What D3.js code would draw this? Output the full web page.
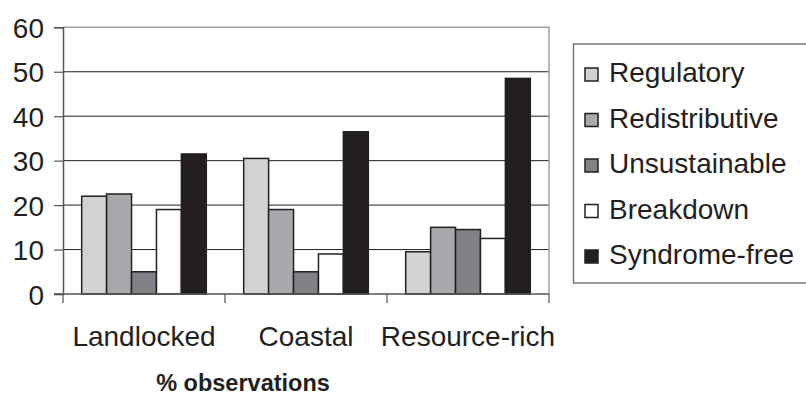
<!DOCTYPE html>
<html>
<head>
<meta charset="utf-8">
<script src="https://cdn.jsdelivr.net/npm/d3@7/dist/d3.min.js"></script>
<style>
  html, body { margin: 0; padding: 0; background: #fff; }
  svg { display: block; }
  text { font-family: "Liberation Sans", Arial, Helvetica, sans-serif; fill: #231f20; }
</style>
</head>
<body>
<svg id="chart" width="806" height="418"></svg>
<script>
// Groups along the x axis
const categories = ["Landlocked", "Coastal", "Resource-rich"];
// Syndrome series, in legend order
const seriesNames = ["Regulatory", "Redistributive", "Unsustainable", "Breakdown", "Syndrome-free"];
// % observations per series, one value per group
const regulatory     = [22, 30.5, 9.5];
const redistributive = [22.5, 19, 15];
const unsustainable  = [5, 5, 14.5];
const breakdown      = [19, 9, 12.5];
const syndromeFree   = [31.5, 36.5, 48.5];
const yTicks = [0, 10, 20, 30, 40, 50, 60];
const axisTitle = "% observations";

const seriesValues = [regulatory, redistributive, unsustainable, breakdown, syndromeFree];
const fills = ["#d1d2d4", "#a7a9ac", "#808285", "#ffffff", "#231f20"];

const svg = d3.select("#chart");
const plot = { left: 63, right: 549, top: 27.3, bottom: 294 };

const y = d3.scaleLinear().domain([0, 60]).range([plot.bottom, plot.top]);
const x0 = d3.scaleBand().domain(categories).range([plot.left, plot.right]).paddingInner(0).paddingOuter(0);
// five bars per group with a gap of 1.5 bar widths (0.75 on each side)
const x1 = d3.scaleBand().domain(seriesNames).range([0, x0.bandwidth()])
  .paddingInner(0).paddingOuter(0.75);

// horizontal gridlines
svg.append("g").selectAll("line")
  .data(yTicks.filter(t => t > 0 && t < 60))
  .join("line")
  .attr("x1", plot.left).attr("x2", plot.right)
  .attr("y1", d => y(d)).attr("y2", d => y(d))
  .attr("stroke", "#231f20").attr("stroke-width", 1);

// top and right frame of the plot area
svg.append("path")
  .attr("d", `M${plot.left},${y(60)}H${plot.right}V${plot.bottom}`)
  .attr("fill", "none").attr("stroke", "#a0a0a0").attr("stroke-width", 1.5);

// bars
const groups = svg.append("g").selectAll("g")
  .data(categories)
  .join("g")
  .attr("transform", d => `translate(${x0(d)},0)`);

groups.selectAll("rect")
  .data((c, ci) => seriesNames.map((s, si) => ({ s, si, v: seriesValues[si][ci] })))
  .join("rect")
  .attr("x", d => x1(d.s))
  .attr("width", x1.bandwidth())
  .attr("y", d => y(d.v))
  .attr("height", d => y(0) - y(d.v))
  .attr("fill", d => fills[d.si])
  .attr("stroke", "#231f20")
  .attr("stroke-width", 1.5);

// y axis
const yAxis = d3.axisLeft(y).tickValues(yTicks).tickSize(9).tickPadding(10);
const gy = svg.append("g").attr("transform", `translate(${plot.left},0)`).call(yAxis);
gy.select(".domain").attr("stroke", "#555").attr("stroke-width", 1.5);
gy.selectAll(".tick line").attr("stroke", "#555").attr("stroke-width", 1.2);
gy.selectAll(".tick text")
  .style("font-family", "'Liberation Sans', Arial, sans-serif")
  .attr("font-size", 28).attr("fill", "#231f20").attr("dy", "0.36em");

// x axis: ticks at group boundaries, labels centred in each group
const gx = svg.append("g").attr("transform", `translate(0,${plot.bottom})`);
gx.append("line")
  .attr("x1", plot.left - 9).attr("x2", plot.right)
  .attr("stroke", "#555").attr("stroke-width", 1.5);
const bounds = categories.map(c => x0(c)).concat([x0(categories[categories.length - 1]) + x0.bandwidth()]);
gx.selectAll("line.tk").data(bounds).join("line").attr("class", "tk")
  .attr("x1", d => d).attr("x2", d => d).attr("y1", 0).attr("y2", 9)
  .attr("stroke", "#555").attr("stroke-width", 1.2);
gx.selectAll("text").data(categories).join("text")
  .attr("x", d => x0(d) + x0.bandwidth() / 2)
  .attr("y", 52)
  .attr("text-anchor", "middle")
  .attr("font-size", 28)
  .text(d => d);

// axis title
svg.append("text")
  .attr("x", 243).attr("y", 391)
  .attr("text-anchor", "middle")
  .attr("font-size", 23.5).attr("font-weight", "bold")
  .text(axisTitle);

// legend
const legend = svg.append("g");
legend.append("rect")
  .attr("x", 573.5).attr("y", 44).attr("width", 260).attr("height", 239)
  .attr("fill", "#fff").attr("stroke", "#777").attr("stroke-width", 1.5);
const rowY = d3.scalePoint().domain(seriesNames).range([72, 254]);
const item = legend.selectAll("g.item").data(seriesNames).join("g").attr("class", "item")
  .attr("transform", d => `translate(0,${rowY(d)})`);
item.append("rect")
  .attr("x", 585).attr("y", -4).attr("width", 13).attr("height", 13)
  .attr("fill", (d, i) => fills[i]).attr("stroke", "#231f20").attr("stroke-width", 1.5);
item.append("text")
  .attr("x", 609).attr("y", 10)
  .attr("font-size", 28)
  .text(d => d);
</script>
</body>
</html>
